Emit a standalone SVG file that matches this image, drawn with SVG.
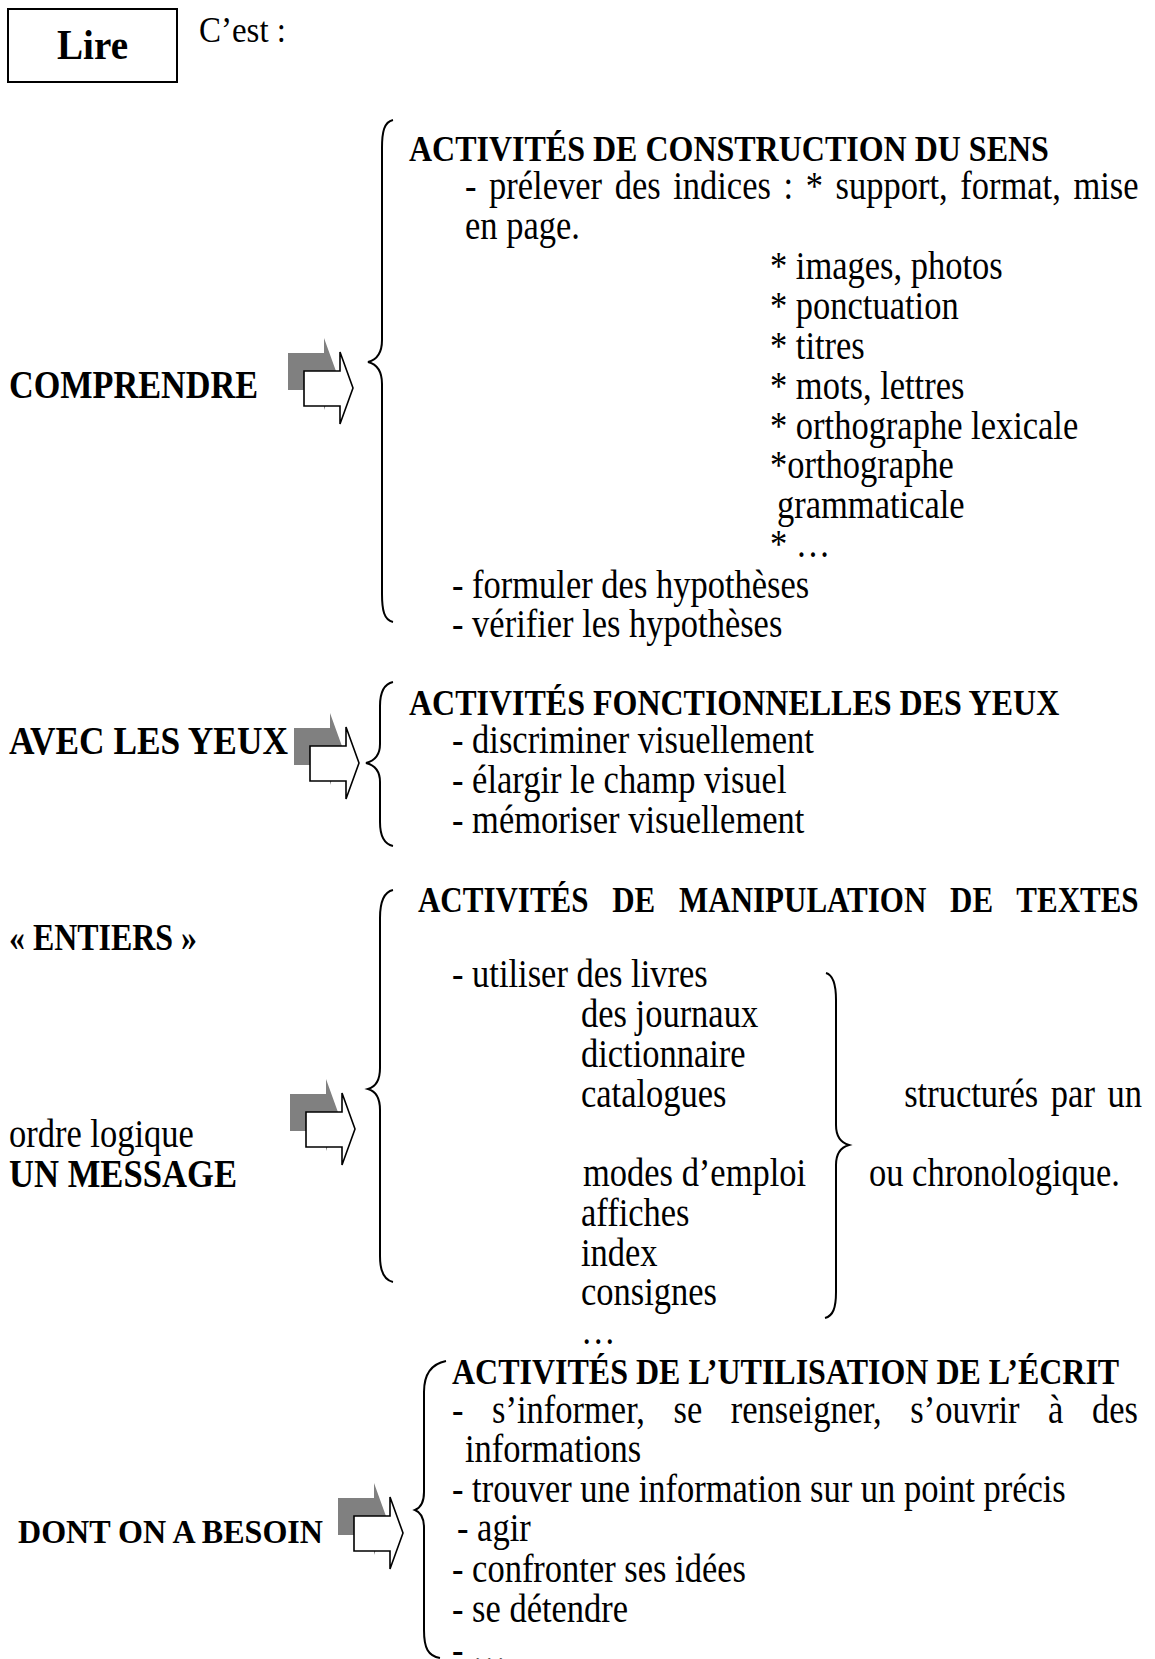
<svg xmlns="http://www.w3.org/2000/svg" width="1155" height="1659" viewBox="0 0 1155 1659">
<style>
text{font-family:"Liberation Serif","Times New Roman",serif;font-size:34.5px;fill:#000}
.b{font-weight:bold}
.h{font-size:32px;font-weight:bold}
.br{fill:none;stroke:#000;stroke-width:2}
.box{fill:#fff;stroke:#000;stroke-width:2}
.sh{fill:#808080}
.ar{fill:#fff;stroke:#000;stroke-width:1.6;stroke-linejoin:miter}
</style>
<defs>
<g id="arrow">
<path class="sh" d="M-16,1 H20 V-14 L33,22 L20,58 V38 H-16 Z"/>
<path class="ar" d="M0,19 H36 V0 L49,36 L36,72 V54 H0 Z"/>
</g>
</defs>
<rect width="1155" height="1659" fill="#fff"/>

<g id="lire">
<rect class="box" x="8" y="9" width="169" height="73"/>
<g transform="scale(1,1.15)"><text class="b" x="57" y="51.3" style="font-size:37px" textLength="71" lengthAdjust="spacingAndGlyphs">Lire</text></g>
</g>
<g id="cest" transform="scale(1,1.15)"><text x="199" y="36.5" style="font-size:32px" textLength="87" lengthAdjust="spacingAndGlyphs">C’est :</text></g>

<g id="comprendre" transform="scale(1,1.15)"><text class="b" x="9" y="346.1" style="font-size:35px" textLength="249" lengthAdjust="spacingAndGlyphs">COMPRENDRE</text></g>
<g id="avec-les-yeux" transform="scale(1,1.15)"><text class="b" x="9" y="655.7" style="font-size:35px" textLength="279" lengthAdjust="spacingAndGlyphs">AVEC LES YEUX</text></g>
<g id="entiers" transform="scale(1,1.15)"><text class="b" x="9" y="826.1" style="font-size:33px" textLength="188" lengthAdjust="spacingAndGlyphs">« ENTIERS »</text></g>
<g id="ordre-logique" transform="scale(1,1.15)"><text x="9" y="997.4">ordre logique</text></g>
<g id="un-message" transform="scale(1,1.15)"><text class="b" x="9" y="1032.2" style="font-size:35px" textLength="228" lengthAdjust="spacingAndGlyphs">UN MESSAGE</text></g>
<g id="dont-on-a-besoin" transform="scale(1,1.15)"><text class="b" x="18" y="1341.7" style="font-size:29.5px" textLength="305" lengthAdjust="spacingAndGlyphs">DONT ON A BESOIN</text></g>

<g id="sens" transform="scale(1,1.15)">
<text class="h" x="409" y="140">ACTIVITÉS DE CONSTRUCTION DU SENS</text>
<text x="465" y="173" style="word-spacing:4px">- prélever des indices : * support, format, mise</text>
<text x="465" y="207.8">en page.</text>
<text x="770" y="242.6">* images, photos</text>
<text x="770" y="277.4">* ponctuation</text>
<text x="770" y="312.2">* titres</text>
<text x="770" y="347">* mots, lettres</text>
<text x="770" y="381.7">* orthographe lexicale</text>
<text x="770" y="415.7">*orthographe</text>
<text x="777" y="450.4">grammaticale</text>
<text x="770" y="484.3">* …</text>
<text x="452" y="520">- formuler des hypothèses</text>
<text x="452" y="553.9">- vérifier les hypothèses</text>
</g>

<g id="yeux" transform="scale(1,1.15)">
<text class="h" x="409" y="621.7">ACTIVITÉS FONCTIONNELLES DES YEUX</text>
<text x="452" y="654.8">- discriminer visuellement</text>
<text x="452" y="689.6">- élargir le champ visuel</text>
<text x="452" y="724.3">- mémoriser visuellement</text>
</g>

<g id="textes" transform="scale(1,1.15)">
<text class="h" x="418" y="793" style="font-size:31px;word-spacing:16px">ACTIVITÉS DE MANIPULATION DE TEXTES</text>
<text x="452" y="858.3">- utiliser des livres</text>
<text x="581" y="893">des journaux</text>
<text x="581" y="927.8">dictionnaire</text>
<text x="581" y="962.6">catalogues</text>
<text x="583" y="1031.3">modes d’emploi</text>
<text x="581" y="1066.1">affiches</text>
<text x="581" y="1100.9">index</text>
<text x="581" y="1134.8">consignes</text>
<text x="581" y="1168.7">…</text>
</g>

<g id="structures" transform="scale(1,1.15)">
<text x="1142" y="962.6" text-anchor="end" style="word-spacing:4px">structurés par un</text>
<text x="869" y="1031.3">ou chronologique.</text>
</g>

<g id="ecrit" transform="scale(1,1.15)">
<text class="h" x="452" y="1203.5">ACTIVITÉS DE L’UTILISATION DE L’ÉCRIT</text>
<text x="452" y="1237.4" style="word-spacing:20px">- s’informer, se renseigner, s’ouvrir à des</text>
<text x="465" y="1271.3">informations</text>
<text x="452" y="1306.1">- trouver une information sur un point précis</text>
<text x="457" y="1340">- agir</text>
<text x="452" y="1375.7">- confronter ses idées</text>
<text x="452" y="1410.4">- se détendre</text>
<text x="452" y="1446">- …</text>
</g>

<g id="connectors">
<use href="#arrow" transform="translate(304,352)"/>
<use href="#arrow" transform="translate(310,727)"/>
<use href="#arrow" transform="translate(306,1093)"/>
<use href="#arrow" transform="translate(354,1497)"/>
<path class="br" d="M393,120 C384,122 382,132 382,148 L382,340 C382,354 376,360 368,362 C376,364 382,370 382,384 L382,594 C382,610 384,620 393,622"/>
<path class="br" d="M393,682 C384,684 380,692 380,706 L380,744 C380,756 374,761 366,763 C374,765 380,770 380,782 L380,822 C380,836 384,844 393,846"/>
<path class="br" d="M393,890 C384,892 380,902 380,918 L380,1068 C380,1082 375,1087 368,1089 C375,1091 380,1096 380,1110 L380,1256 C380,1272 384,1280 393,1282"/>
<path class="br" d="M446,1361 C431,1364 424,1374 424,1392 L424,1492 C424,1504 420,1508 415,1510 C420,1512 424,1516 424,1528 L424,1630 C424,1648 428,1656 440,1658"/>
<path class="br" d="M826,973 C833,975 836,985 836,1000 L836,1125 C836,1138 842,1143 849,1145 C842,1147 836,1152 836,1165 L836,1292 C836,1308 833,1316 825,1318"/>
</g>
</svg>
